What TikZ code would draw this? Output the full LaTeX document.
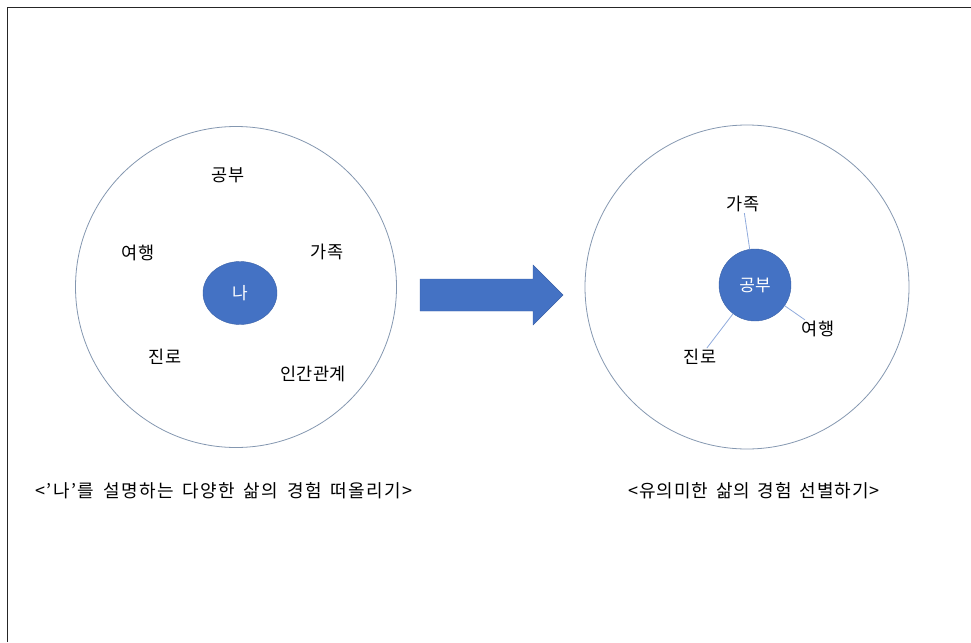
\documentclass[tikz,border=0pt]{standalone}
\usepackage{fontspec}
\usetikzlibrary{shapes.geometric}
\setmainfont{Noto Sans CJK KR}
\newfontfamily\capwideA[LetterSpace=8,WordSpace=1.6]{Noto Sans CJK KR}
\newfontfamily\capwideB[LetterSpace=5,WordSpace=1.6]{Noto Sans CJK KR}
\definecolor{officeblue}{HTML}{4472C4}
\definecolor{ringcol}{HTML}{8497B0}
\definecolor{linkcol}{HTML}{8FAADC}
\begin{document}
\begin{tikzpicture}[x=1pt,y=-1pt,
  lbl/.style={font=\fontsize{17.5}{20}\selectfont, inner sep=1pt, text=black},
  captext/.style={inner sep=1pt, text=black},
  ring/.style={circle, draw=ringcol, line width=0.8pt, minimum size=#1, inner sep=0pt},
  core/.style={fill=officeblue, draw=officeblue!85!black, line width=0.4pt, text=white,
    font=\fontsize{17}{20}\selectfont, inner sep=0pt},
  link/.style={draw=linkcol, line width=0.8pt}]
\useasboundingbox (0,0) rectangle (971,642);
% frame (only top and left edges visible)
\draw[line width=1.6pt, black!85] (7.5,642) -- (7.5,7.5) -- (971,7.5);

% left diagram
\node[ring=321pt] (ringL) at (236,287) {};
\node[core, ellipse, minimum width=74pt, minimum height=63pt] (na) at (240,293) {나};
\node[lbl] (l1) at (228,175) {공부};
\node[lbl] (l2) at (138,253) {여행};
\node[lbl] (l3) at (327,252) {가족};
\node[lbl] (l4) at (165,357) {진로};
\node[lbl] (l5) at (313,374) {인간관계};

% arrow
\fill[officeblue, draw=officeblue!85!black, line width=0.4pt]
  (420,279) -- (533,279) -- (533,265) -- (563,295) -- (533,325) -- (533,311) -- (420,311) -- cycle;

% right diagram
\node[ring=324pt] (ringR) at (747,287) {};
\node[core, circle, minimum size=72pt] (gb) at (755,285) {공부};
\node[lbl] (r1) at (743,204) {가족};
\node[lbl] (r2) at (818,329) {여행};
\node[lbl] (r3) at (700,357) {진로};
\draw[link] (gb) -- (r1);
\draw[link] (gb) -- (r2);
\draw[link] (gb) -- (r3);

% captions
\node[captext, font=\capwideA\fontsize{18}{21}\selectfont] (capL) at (224,491) {<’나’를 설명하는 다양한 삶의 경험 떠올리기>};
\node[captext, font=\capwideB\fontsize{18}{21}\selectfont] (capR) at (754,491) {<유의미한 삶의 경험 선별하기>};
\end{tikzpicture}
\end{document}
